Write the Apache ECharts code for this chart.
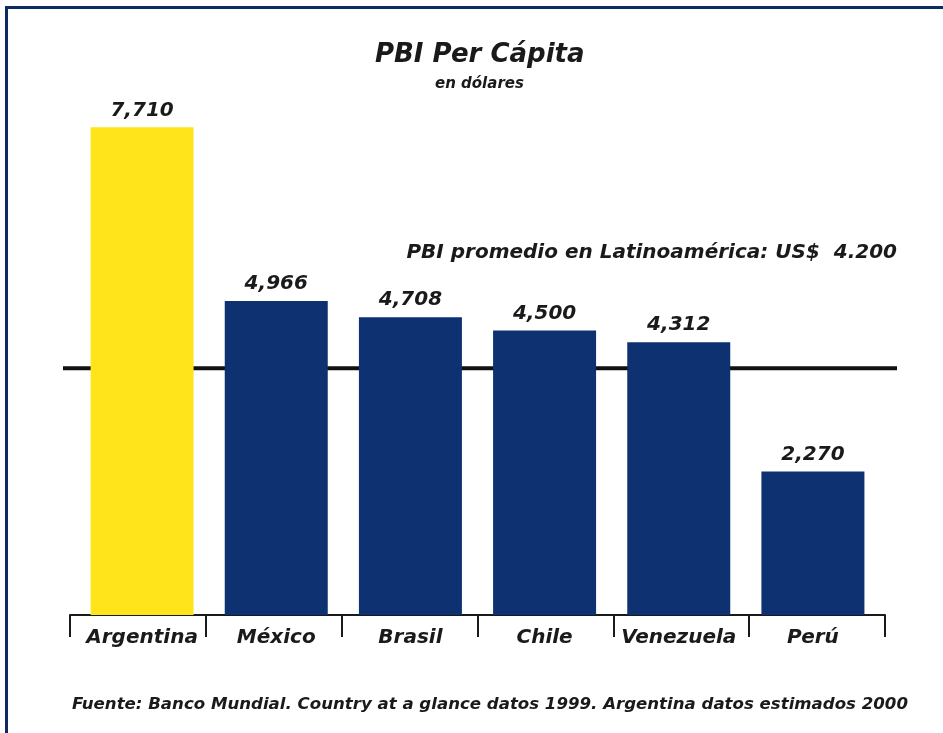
<!DOCTYPE html>
<html>
<head>
<meta charset="utf-8">
<script src="https://cdn.jsdelivr.net/npm/echarts@6/dist/echarts.min.js"></script>
<style>
  html, body { margin: 0; padding: 0; background: #ffffff; }
  #wrap { position: relative; width: 943px; height: 733px; overflow: hidden; }
  #frame { position: absolute; left: 5px; top: 6px; width: 960px; height: 760px;
           border-top: 3px solid #0b2c62; border-left: 3px solid #0b2c62; }
  #chart { position: absolute; left: 0; top: 0; width: 943px; height: 733px; }
</style>
</head>
<body>
<div id="wrap">
  <div id="frame"></div>
  <div id="chart"></div>
</div>
<script>
// ---- data ----
const categories = ['Argentina', 'México', 'Brasil', 'Chile', 'Venezuela', 'Perú'];
const gdpPerCapita = [7710, 4966, 4708, 4500, 4312, 2270];
const averageLineLevel = 3900; // level at which the reference draws its average line
const titleText = 'PBI Per Cápita';
const subtitleText = 'en dólares';
const averageLabel = 'PBI promedio en Latinoamérica: US$  4.200';
const sourceText = 'Fuente: Banco Mundial. Country at a glance datos 1999. Argentina datos estimados 2000';
const highlightCategory = 'Argentina';

const FONT = 'DejaVu Sans';
const yMax = 8000;

const chart = echarts.init(document.getElementById('chart'), null, { renderer: 'canvas' });

const barData = categories.map((c, i) => ({
  value: gdpPerCapita[i],
  itemStyle: { color: c === highlightCategory ? '#ffe41c' : '#0e3171' }
}));

const textBase = { fontFamily: FONT, fontWeight: 'bold', fontStyle: 'italic', color: '#1a1a1a' };

const option = {
  backgroundColor: 'transparent',
  animation: false,
  title: [
    {
      text: titleText,
      left: 370,
      top: 37,
      textStyle: Object.assign({ fontSize: 26 }, textBase)
    },
    {
      text: subtitleText,
      left: 430,
      top: 72,
      textStyle: Object.assign({ fontSize: 15 }, textBase)
    },
    {
      text: averageLabel,
      right: 41,
      top: 238,
      textStyle: Object.assign({ fontSize: 20 }, textBase)
    },
    {
      text: sourceText,
      left: 67,
      top: 691,
      textStyle: Object.assign({ fontSize: 16.6 }, textBase)
    }
  ],
  grid: [
    { left: 75, right: 63, top: 109, bottom: 118 },   // bars + labels
    { left: 63, right: 46, top: 109, bottom: 118 },   // average line
    { left: 70, right: 58, top: 109, bottom: 118 }    // axis line + boundary ticks
  ],
  xAxis: [
    {
      type: 'category',
      gridIndex: 0,
      data: categories,
      axisLine: { show: false },
      axisTick: { show: false },
      axisLabel: Object.assign({ interval: 0, margin: 13, fontSize: 20 }, textBase)
    },
    { type: 'value', gridIndex: 1, min: 0, max: 1, show: false },
    {
      type: 'category',
      gridIndex: 2,
      data: categories,
      axisLine: { lineStyle: { color: '#1a1a1a', width: 2 } },
      axisTick: { show: true, interval: 0, length: 22, lineStyle: { color: '#1a1a1a', width: 2 } },
      axisLabel: { show: false }
    }
  ],
  yAxis: [
    { type: 'value', gridIndex: 0, min: 0, max: yMax, show: false, splitLine: { show: false } },
    { type: 'value', gridIndex: 1, min: 0, max: yMax, show: false, splitLine: { show: false } },
    { type: 'value', gridIndex: 2, min: 0, max: yMax, show: false, splitLine: { show: false } }
  ],
  series: [
    {
      type: 'line',
      xAxisIndex: 1,
      yAxisIndex: 1,
      data: [[0, averageLineLevel], [1, averageLineLevel]],
      symbol: 'none',
      lineStyle: { color: '#111111', width: 4 },
      z: 1,
      silent: true
    },
    {
      type: 'bar',
      xAxisIndex: 0,
      yAxisIndex: 0,
      data: barData,
      barWidth: 103,
      z: 3,
      label: Object.assign({
        show: true,
        position: 'top',
        distance: 7,
        fontSize: 20,
        formatter: p => p.value.toLocaleString('en-US')
      }, textBase)
    }
  ]
};

chart.setOption(option);
</script>
</body>
</html>
